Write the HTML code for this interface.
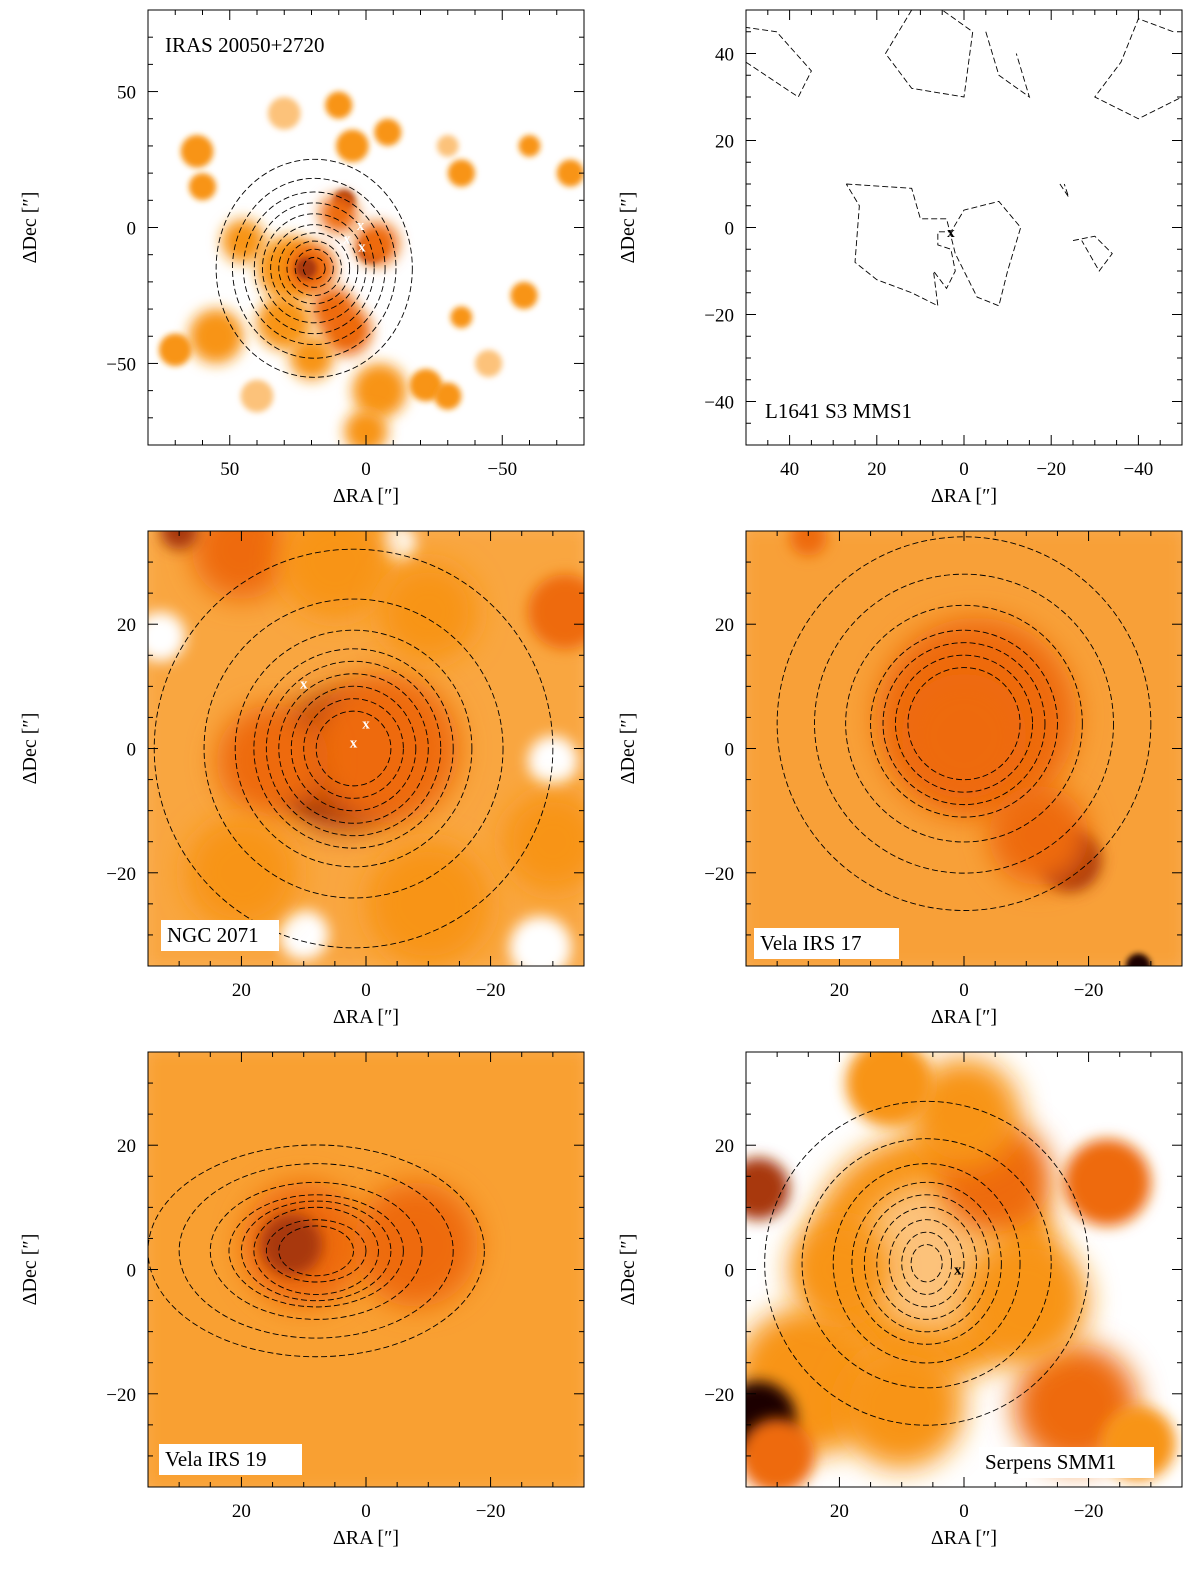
<!DOCTYPE html>
<html><head><meta charset="utf-8"><style>
body{margin:0;background:#fff;}
svg text{font-family:"Liberation Serif",serif;}
</style></head><body>
<svg id="fig" width="1200" height="1577" viewBox="0 0 1200 1577" xmlns="http://www.w3.org/2000/svg">
<defs>
<filter id="b0" x="-100%" y="-100%" width="300%" height="300%"><feGaussianBlur stdDeviation="3"/></filter>
<filter id="b1" x="-100%" y="-100%" width="300%" height="300%"><feGaussianBlur stdDeviation="7"/></filter>
<filter id="b2" x="-100%" y="-100%" width="300%" height="300%"><feGaussianBlur stdDeviation="14"/></filter>
</defs>
</svg>
<script>
const NS="http://www.w3.org/2000/svg";
// palette: 0 light, 1 orange, 2 deep orange, 3 dark red, 4 near-black
const palette=["#fcc27a","#f89418","#ee6a0a","#a83808","#1a0500"];
const panelNames=["IRAS 20050+2720","L1641 S3 MMS1","NGC 2071","Vela IRS 17","Vela IRS 19","Serpens SMM1"];
const panelRange=[80,50,35,35,35,35];
const panelTicks=[[50,0,-50],[40,20,0,-20,-40],[20,0,-20],[20,0,-20],[20,0,-20],[20,0,-20]];
const panelMinor=[10,5,5,5,5,5];
const panelBase=[null,null,"#f9a640","#f8a038","#f9a030",null];
// blobs: [RA, Dec, radius(arcsec), paletteIndex]
const blobs1=[[28,-15,12,1],[20,-15,9,2],[22,-15,4,3],[8,10,4,3],[10,5,7,2],[7,-38,4,4],[7,-38,9,2],[12,-30,8,2],[-2,-8,5,3],[-4,-6,8,2],[30,-35,10,1],[55,-40,10,1],[70,-45,6,1],[45,-5,8,1],[62,28,6,1],[30,42,6,0],[10,45,5,1],[5,30,6,1],[-8,35,5,1],[-30,30,4,0],[-35,20,5,1],[-60,30,4,1],[-58,-25,5,1],[-35,-33,4,1],[-5,-60,10,1],[-22,-58,6,1],[-45,-50,5,0],[40,-62,6,0],[0,-75,8,1],[-75,20,5,1],[-30,-62,5,1],[20,-48,8,1],[60,15,5,1]];
const blobs2=[];
const blobs3=[[8,-3,7,4],[4,-2,11,3],[-3,0,12,2],[15,-2,9,2],[20,32,8,2],[5,30,9,1],[-10,22,8,1],[-32,22,6,2],[-30,-15,8,1],[20,-20,9,1],[-10,-25,10,1],[30,35,3,3]];
const blobs4=[[-2,5,16,2],[0,2,10,2],[-17,-18,5,3],[-12,-14,8,2],[25,34,3,2],[-28,-35,2,4]];
const blobs5=[[10,4,10,2],[12,4,5,3],[-8,4,10,2]];
const blobs6=[[5,2,20,1],[5,2,12,0],[-5,15,9,2],[0,25,9,1],[12,30,7,1],[-23,14,7,2],[25,-18,12,1],[10,-22,10,1],[-18,-22,10,2],[-28,-28,6,1],[33,13,5,3],[33,-24,6,4],[30,-30,6,2],[-10,-5,10,1],[20,0,8,1]];
// white holes: [RA, Dec, radius]
const holes3=[[33,18,4],[-30,-2,4],[-5,33,3],[10,-30,4],[-28,-32,5]];
const holes4=[];
const holes5=[];
const holes6=[];
const ctrRA=[19,0,2,0,8,6];
const ctrDec=[-15,0,0,4,3,1];
const rxLevels=[[36,30,26,22,19,16,13,10,7,4],[],[32,24,19,16,14,12,10,8,6],[30,24,19,15,13,11,9],[27,22,17,14,12,10,8,6],[26,20,15,12,10,8,6,4,2.5]];
const ryLevels=[[40,33,28,24,20,16,13,10,7,4],[],[32,24,19,16,14,12,10,8,6],[30,24,19,15,13,11,9],[17,14,11,9,8,7,5,4],[26,20,16,13,11,9,7,5,3]];
const cross1=[[2,1],[7,-4],[1.5,-7]];
const cross2=[[3,-1]];
const cross3=[[10,10.5],[0,4],[2,1]];
const cross6=[[1,0]];
const loops2=[
 [[27,10],[12,9],[10,2],[4,2],[2,-6],[-1,-12],[-3,-16],[-8,-18],[-10,-10],[-13,0],[-8,6],[0,4],[3,-1],[6,-1],[6,-4],[3,-5],[2,-10],[4,-14],[7,-10],[6,-18],[12,-15],[20,-12],[25,-8],[24,5],[27,10]],
 [[-25,-3],[-30,-2],[-34,-6],[-31,-10],[-27,-3]],
 [[-22,10],[-24,7],[-23,10]],
 [[-48,45],[-40,48],[-36,38],[-30,30],[-40,25],[-50,30]],
 [[12,50],[18,40],[12,32],[0,30],[-2,45],[5,50]],
 [[-5,45],[-8,35],[-15,30],[-12,40]],
 [[50,38],[38,30],[35,36],[43,45],[50,46]]
];
const dx=[148,746,148,746,148,746], dy=[10,10,531,531,1052,1052];
const W=436,H=435;
const svg=document.getElementById('fig');
function mk(tag,attrs,parent){const e=document.createElementNS(NS,tag);for(const k in attrs)e.setAttribute(k,attrs[k]);(parent||svg).appendChild(e);return e;}
const blobSets=[blobs1,blobs2,blobs3,blobs4,blobs5,blobs6];
const holeSets=[[],[],holes3,holes4,holes5,holes6];
const crossSets=[cross1,cross2,cross3,[],[],cross6];
const crossColor=["#fff","#000","#fff","#fff","#fff","#000"];
function blurFor(px){return px<18?'b0':(px<45?'b1':'b2');}
for(let p=0;p<6;p++){
 const x0=dx[p],y0=dy[p],R=panelRange[p];
 const sx=v=>x0+W/2-v*(W/2)/R;
 const sy=v=>y0+H/2-v*(H/2)/R;
 const sr=v=>v*(W/2)/R;
 const g=mk('g',{});
 
 
 const cp=mk('clipPath',{id:'cp'+p},g);
 mk('rect',{x:x0,y:y0,width:W,height:H},cp);
 const hm=mk('g',{'clip-path':'url(#cp'+p+')'},g);
 
 
 if(panelBase[p]){mk('rect',{x:x0-20,y:y0-20,width:W+40,height:H+40,fill:panelBase[p],filter:'url(#b2)'},hm);}
 holeSets[p].forEach(h=>{const c=mk('circle',{cx:sx(h[0]),cy:sy(h[1]),r:sr(h[2]),fill:'#fff',filter:'url(#b1)'},hm);
  });
 blobSets[p].forEach(b=>{const c=mk('circle',{cx:sx(b[0]),cy:sy(b[1]),r:sr(b[2]),fill:palette[b[3]],filter:'url(#'+blurFor(sr(b[2]))+')'},hm);
  });
 const rxs=rxLevels[p],rys=ryLevels[p];
 for(let i=0;i<rxs.length;i++){
  const e=mk('ellipse',{cx:sx(ctrRA[p]),cy:sy(ctrDec[p]),rx:sr(rxs[i]),ry:sr(rys[i]),fill:'none',stroke:'#000','stroke-width':0.9,'stroke-dasharray':'6,3'},hm);
  
 }
 if(p===1){loops2.forEach(l=>{const pl=mk('polyline',{points:l.map(q=>sx(q[0])+','+sy(q[1])).join(' '),fill:'none',stroke:'#000','stroke-width':0.9,'stroke-dasharray':'6,3'},hm);
  });}
 crossSets[p].forEach(c=>{const t=mk('text',{x:sx(c[0]),y:sy(c[1])+5,'text-anchor':'middle','font-size':15,'font-weight':'bold',fill:crossColor[p],'font-family':'Liberation Sans,sans-serif'},hm);t.textContent='x';
  });
 const fr=mk('rect',{x:x0,y:y0,width:W,height:H,fill:'none',stroke:'#000','stroke-width':1},g);
 
 const m=panelMinor[p];
 for(let v=-R+((R%m)?(R%m):0);v<=R;v+=m){
  const maj=panelTicks[p].includes(v), L=maj?10:5;
  mk('line',{x1:sx(v),y1:y0,x2:sx(v),y2:y0+L,stroke:'#000'},g);
  mk('line',{x1:sx(v),y1:y0+H,x2:sx(v),y2:y0+H-L,stroke:'#000'},g);
  mk('line',{x1:x0,y1:sy(v),x2:x0+L,y2:sy(v),stroke:'#000'},g);
  mk('line',{x1:x0+W,y1:sy(v),x2:x0+W-L,y2:sy(v),stroke:'#000'},g);
 }
 panelTicks[p].forEach(v=>{
  const s=v<0?'\u2212'+(-v):''+v;
  const t=mk('text',{x:sx(v),y:y0+H+30,'text-anchor':'middle','font-size':19},g);t.textContent=s;
  
  const t2=mk('text',{x:x0-12,y:sy(v)+7,'text-anchor':'end','font-size':19},g);t2.textContent=s;
  
 });
 const xt=mk('text',{x:x0+W/2,y:y0+H+57,'text-anchor':'middle','font-size':20},g);xt.textContent="\u0394RA [\u2033]";
 
 const yt=mk('text',{x:0,y:0,'text-anchor':'middle','font-size':20,transform:'translate('+(x0-112)+','+(y0+H/2)+') rotate(-90)'},g);yt.textContent="\u0394Dec [\u2033]";
 
 const lx=[165,765,167,760,165,985][p], ly=[52,418,942,950,1466,1469][p];
 const lw=[0,0,118,145,143,175][p];
 if(lw){const bx=mk('rect',{x:lx-6,y:ly-22,width:lw,height:31,fill:'#fff'},g);}
 const lt=mk('text',{x:lx,y:ly,'font-size':21,'font-family':'Liberation Mono,monospace'},g);lt.textContent=panelNames[p];
 
}
</script>
</body></html>
